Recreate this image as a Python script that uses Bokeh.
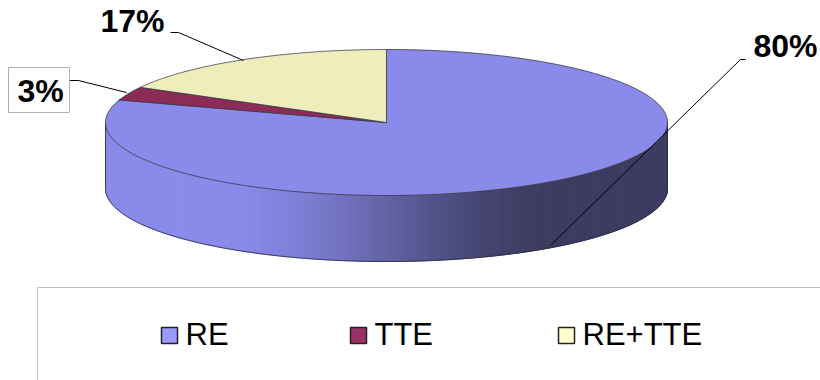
import numpy as np
from bokeh.plotting import figure
from bokeh.models import Range1d
from bokeh.core.properties import value
from bokeh.embed import file_html
from bokeh.resources import INLINE

# ---- data ----
categories = ["RE", "TTE", "RE+TTE"]
values = [80, 3, 17]
top_colors = ["#8A8AEA", "#8C2A58", "#EEEEBC"]
legend_colors = ["#9999FF", "#993366", "#FFFFCC"]
labels = [f"{v}%" for v in values]

# ---- geometry (pixel-like coordinates, y down) ----
W, H = 820, 380
cx, cy, rx, ry, depth = 386.0, 122.0, 281.0, 73.0, 66.0
FONT = value("Liberation Sans")
TSHIFT = -12

p = figure(width=W, height=H, output_backend="svg", toolbar_location=None,
           x_range=Range1d(0, W), y_range=Range1d(H, 0), min_border=0,
           outline_line_color=None, background_fill_color="white",
           border_fill_color="white")
p.axis.visible = False
p.grid.visible = False


def pt(theta, dy=0.0):
    return cx + rx * np.sin(theta), cy - ry * np.cos(theta) + dy


total = float(sum(values))
fr = np.cumsum([0] + values) / total
angles = fr * 2 * np.pi

# ---- side (front half) ----
light = np.array([0x8A, 0x8A, 0xEA], float)
dark = np.array([0x3C, 0x3C, 0x62], float)
xs_s, ys_s, cols = [], [], []
for i in range(len(values)):
    a0 = max(angles[i], np.pi / 2)
    a1 = min(angles[i + 1], 3 * np.pi / 2)
    if a1 <= a0:
        continue
    th = np.linspace(a0, a1, 240)
    for j in range(len(th) - 1):
        t0, t1 = th[j], th[j + 1]
        x0, y0 = pt(t0)
        x1, y1 = pt(t1)
        xm = (x0 + x1) / 2
        t = np.clip((xm - 215) / (555 - 215), 0, 1)
        t = t * t * (3 - 2 * t)
        c = light + (dark - light) * t
        if i != 0:
            c = c * 0.6
        xs_s.append([x0, x1, x1, x0])
        ys_s.append([y0, y1, y1 + depth, y0 + depth])
        cols.append("#%02x%02x%02x" % tuple(int(round(v)) for v in c))
p.patches(xs_s, ys_s, fill_color=cols, line_color=cols, line_width=1)

# side outline
thb = np.linspace(np.pi / 2, 3 * np.pi / 2, 300)
bx, by = pt(thb, depth)
p.line(bx, by, line_color="#2a2a40", line_width=0.8)
for a in (np.pi / 2, 3 * np.pi / 2):
    x0, y0 = pt(a)
    p.line([x0, x0], [y0, y0 + depth], line_color="#2a2a40", line_width=0.8)

# ---- top slices ----
txs, tys = [], []
for i in range(len(values)):
    th = np.linspace(angles[i], angles[i + 1], 200)
    x, y = pt(th)
    txs.append([cx] + list(x) + [cx])
    tys.append([cy] + list(y) + [cy])
p.patches(txs, tys, fill_color=top_colors, line_color="#3a3a48",
          line_width=0.8)

# ---- leader lines ----
p.line([745, 740, 550], [59, 59, 245], line_color="black", line_width=1)
p.line([170, 178, 243], [32, 32, 60], line_color="black", line_width=1)
p.line([69, 78, 126], [80, 80, 92], line_color="black", line_width=1)

# ---- data labels ----
p.quad(left=[8], right=[69], top=[67], bottom=[112], fill_color="white",
       line_color="#b0b0b0", line_width=1)
p.text(x=[753, 100, 17], y=[57 + TSHIFT, 32 + TSHIFT, 102 + TSHIFT],
       text=[labels[0], labels[2], labels[1]],
       text_font=FONT, text_font_style="bold", text_font_size="32px",
       text_baseline="alphabetic", text_align="left", text_color="black")

# ---- legend ----
p.quad(left=[37], right=[830], top=[287], bottom=[400], fill_color="white",
       line_color="#c0c0c0", line_width=1)
sw_x = [161, 350, 558]
p.quad(left=sw_x, right=[x + 16 for x in sw_x], top=[327] * 3,
       bottom=[343] * 3, fill_color=legend_colors, line_color="#222222",
       line_width=1.5)
p.text(x=[x + 24 for x in sw_x], y=[346 + TSHIFT] * 3, text=categories,
       text_font=FONT, text_font_size="31px", text_baseline="alphabetic",
       text_align="left", text_color="black")

open("out.html", "w").write(file_html(p, INLINE))
